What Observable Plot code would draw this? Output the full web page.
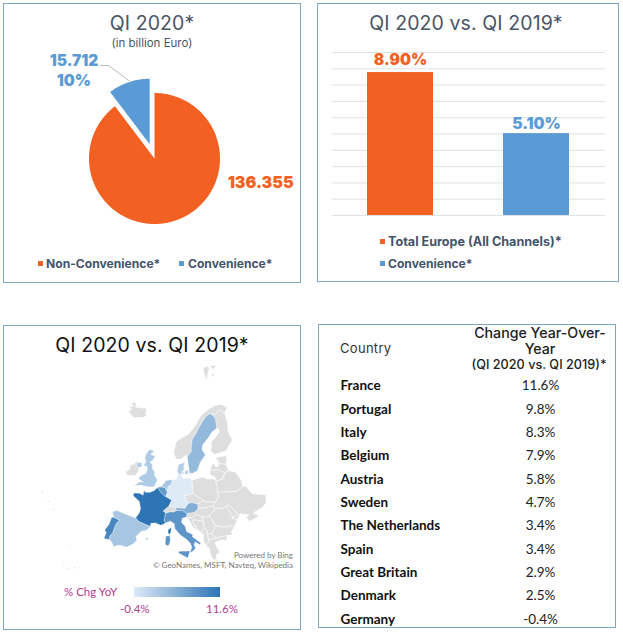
<!DOCTYPE html>
<html>
<head>
<meta charset="utf-8">
<script src="https://cdn.jsdelivr.net/npm/d3@7"></script>
<script src="https://cdn.jsdelivr.net/npm/@observablehq/plot@0.6"></script>
<style>
html,body{margin:0;padding:0;background:#fff;}
#page{position:relative;width:623px;height:635px;overflow:hidden;font-family:Inter,sans-serif;}
.box{position:absolute;box-sizing:border-box;border:1.2px solid #7ea6c6;}
.abs{position:absolute;white-space:nowrap;}
.plot{position:absolute;left:0;top:0;}
.plot svg{background:transparent;overflow:visible;}
.title{font-size:19.5px;color:#4a5568;letter-spacing:.1px;transform:translateX(-50%);}
.leg{font-size:12.1px;font-weight:700;color:#44546a;}
.sq{position:absolute;width:5px;height:5px;}
</style>
</head>
<body>
<div id="page"></div>
<script>
// ---------- data ----------
const pieLabels = ["Non-Convenience*", "Convenience*"];
const pieValues = [136.355, 15.712];
const pieText = ["136.355", "15.712"];
const pieShare = "10%";
const barLabels = ["Total Europe (All Channels)*", "Convenience*"];
const barValues = [8.9, 5.1];
const barText = ["8.90%", "5.10%"];
const gridTicks = [0, 1.015, 2.03, 3.045, 4.06, 5.075, 6.09, 7.105, 8.12, 9.135, 10.15];
const tableCountries = ["France","Portugal","Italy","Belgium","Austria","Sweden","The Netherlands","Spain","Great Britain","Denmark","Germany"];
const tableChange = ["11.6%","9.8%","8.3%","7.9%","5.8%","4.7%","3.4%","3.4%","2.9%","2.5%","-0.4%"];
const colors = {orange:"#f26122", blue:"#5b9bd5", slate:"#44546a"};

// rough country outlines, [lon, lat]
const france = [[[-1.8,43.4],[-1.2,44.6],[-1.1,45.6],[-2.2,47.1],[-4.7,47.9],[-4.8,48.5],[-3,48.8],[-1.6,48.6],[-1.8,49.7],[-1.2,49.4],[0.2,49.6],[1.5,50.2],[2.5,51.1],[4.2,50.1],[5.8,49.5],[6.4,49.4],[8.2,49],[7.6,47.6],[6,46.3],[7,45.9],[7,44.2],[7.5,43.8],[6.2,43.1],[4.5,43.4],[3.1,43.1],[3.1,42.4],[1.4,42.6],[-0.5,42.8]],[[9.4,43],[9.5,42],[9.2,41.4],[8.7,41.7],[8.6,42.4]]];
const spain = [[[-9.2,43.1],[-8,43.7],[-5.7,43.6],[-3.8,43.5],[-1.8,43.4],[-0.5,42.8],[1.4,42.6],[3.2,42.3],[2.2,41.4],[0.8,40.9],[-0.3,39.5],[0.2,38.8],[-0.7,37.7],[-2.1,36.8],[-4.4,36.7],[-5.6,36],[-6.4,36.8],[-7.4,37.2],[-7.5,38],[-7,38.9],[-7,39.7],[-6.9,41],[-6.3,41.9],[-8.2,42.1]],[[2.4,39.6],[3.1,39.9],[3.2,39.4],[2.7,39.4]]];
const portugal = [[[-8.8,41.9],[-8.2,42.1],[-6.3,41.9],[-6.9,41],[-7,39.7],[-7,38.9],[-7.5,38],[-7.4,37.2],[-8.9,37],[-8.8,38.4],[-9.5,38.8],[-8.9,40.2]]];
const italy = [[[7,45.9],[8.4,46.4],[9.3,46.4],[10.4,46.9],[12.3,47],[13.7,46.5],[13.6,45.7],[12.4,45.3],[12.3,44.4],[13.6,43.6],[14.1,42.5],[16.1,41.9],[15.9,41.5],[18.5,40.2],[18.3,39.8],[16.9,40.4],[16.6,39.7],[17.1,39],[16.5,38.4],[15.7,37.9],[15.8,38.6],[16.1,39.1],[15.5,40],[14.5,40.7],[12.4,41.6],[10.5,42.9],[10.2,43.9],[8.8,44.4],[7.5,43.8],[7,44.2]],[[12.5,38],[15.6,38.3],[15.1,36.7],[12.5,37.6]],[[8.2,40.9],[9.3,41.2],[9.7,40.3],[9.5,39.1],[8.9,38.9],[8.4,39.2]]];
const germany = [[[6.1,50.9],[6,51.8],[7.1,52.3],[7.1,53.5],[8.5,53.6],[8.9,54.9],[9.9,54.8],[11,54],[13,54.4],[14.2,53.9],[14.6,52.6],[15,51],[12.2,50.3],[13.8,48.7],[12.8,47.6],[10.5,47.5],[9.6,47.5],[7.6,47.6],[8.2,49],[6.4,49.4],[6.1,50.1]]];
const netherlands = [[[3.4,51.4],[4.2,52.1],[4.8,53],[6.9,53.4],[7.1,52.3],[6,51.8],[6.1,50.9],[5.7,50.8],[5.1,51.4]]];
const belgium = [[[2.5,51.1],[3.4,51.4],[5.1,51.4],[5.7,50.8],[6.1,50.9],[6.1,50.1],[5.8,49.5],[4.2,50.1]]];
const austria = [[[9.6,47.5],[10.5,47.5],[12.8,47.6],[13.8,48.7],[15,49],[17,48.7],[17.1,47.7],[16.1,46.9],[13.7,46.5],[12.3,47],[10.4,46.9]]];
const sweden = [[[11.2,59],[12.6,56.3],[13,55.4],[14.3,55.5],[15.9,56.1],[16.8,58],[18.8,59.8],[17.2,60.8],[17.3,62],[19.8,63.6],[21.5,64.9],[24.1,65.8],[23.6,67.3],[23.6,68],[20.6,69.1],[18.1,68.5],[16,67],[14.5,65.5],[13.7,64.5],[12.2,63],[12.3,61],[12.6,60.3]]];
const denmark = [[[8.1,55.5],[8.2,57],[10.6,57.7],[10.3,56.5],[10.9,56.3],[9.9,55.2],[9.9,54.8],[8.9,54.9]],[[11.1,55.7],[12.5,56.1],[12.4,55],[11.2,55.2]],[[9.9,55.5],[10.8,55.4],[10.6,55],[9.9,55.1]]];
const britain = [[[-5,58.6],[-3,58.6],[-4,57.6],[-1.9,57.6],[-2.3,56.5],[-3.2,56],[-2,55.7],[-1.4,54.8],[-0.1,54.2],[0.2,53.4],[1.7,52.7],[1.3,51.3],[1.4,51.1],[-1,50.7],[-3.4,50.6],[-5.6,50],[-4.2,51.2],[-3,51.4],[-5.2,51.8],[-4.2,52.8],[-3.1,53.3],[-3,54.1],[-3.6,54.9],[-5,54.8],[-4.6,55.7],[-5.6,56.5],[-5.7,57.6]],[[-6,55.2],[-5.5,54.5],[-6.3,54.1],[-7.6,54.3],[-7.2,55.1]]];

const grayCountries = [
 [[[-6.3,54.1],[-6,53.3],[-6.4,52.2],[-9.5,51.6],[-10.2,52.1],[-9.2,53.2],[-10,53.9],[-8.5,54.4],[-8.2,55.1],[-7.2,55.1],[-7.6,54.3]]],
 [[[-22.7,66.4],[-21,65.5],[-18,66.1],[-16,66.5],[-14.6,65.5],[-13.6,65],[-15,64.3],[-18.8,63.4],[-22.6,63.9],[-22,64.6],[-24,64.9],[-22,65.4],[-24.4,65.6]]],
 [[[11,79.5],[16,80],[18,79.6],[17,78.4],[16.5,76.6],[13.5,78]],[[19,80.2],[27,80.2],[22,79.3]],[[21,78.4],[24,78],[21,77.5]]],
 [[[5,60],[5.5,59],[7,58],[8.5,58.2],[10.6,59.3],[11.2,59],[12.6,60.3],[12.3,61],[12.2,63],[13.7,64.5],[14.5,65.5],[16,67],[18.1,68.5],[20.6,69.1],[23.6,68.9],[26,69.9],[28.9,69.1],[31,70.2],[28,71.1],[24,71],[19,70],[15,68.5],[12.5,66],[10,64],[6.5,62.7],[5,61.9]]],
 [[[21,60.7],[22.9,59.9],[25.5,60.3],[27.7,60.5],[31.3,62.9],[29.8,64.8],[30,67],[29,69.1],[26,69.9],[23.6,68.9],[20.6,69.1],[23.6,68],[23.6,67.3],[24.1,65.8],[25.3,65.4],[25.2,64.8],[22.5,63.3],[21.3,62.7],[21.4,61.5]]],
 [[[14.2,53.9],[18.4,54.8],[19.6,54.4],[23,54.4],[23.6,52.6],[23.6,51.5],[24.1,50.6],[22.7,49.2],[19,49.4],[18.8,49.6],[15,51],[14.6,52.6]]],
 [[[12.2,50.3],[15,51],[18.8,49.6],[17,48.7],[15,49],[13.8,48.7]]],
 [[[17,48.7],[18.8,49.6],[19,49.4],[22.7,49.2],[22.1,48.4],[18.8,47.9],[17.1,47.9]]],
 [[[17.1,47.7],[17.1,47.9],[18.8,47.9],[22.1,48.4],[22.9,47.9],[21,46.2],[18.8,45.9],[16.5,46.4],[16.1,46.9]]],
 [[[13.7,46.5],[16.1,46.9],[16.5,46.4],[15.5,45.6],[13.6,45.5]]],
 [[[13.6,45.5],[15.5,45.6],[16.5,46.4],[18.8,45.9],[19,45],[16,45.2],[15.8,44.7],[17.6,43],[18.5,42.5],[16,43.5],[14.9,44.7],[14.3,45.3]]],
 [[[16,45.2],[19,45],[19.5,43.6],[18.5,42.5],[17.6,43],[15.8,44.7]]],
 [[[18.8,45.9],[21,46.2],[22.7,44.2],[22.5,43.2],[21.5,42.3],[20.5,42.2],[20.3,42.8],[19.5,43.6],[19,45]]],
 [[[18.5,42.5],[19.5,43.6],[20.3,42.8],[19.3,41.9]]],
 [[[19.3,41.9],[20.3,42.8],[20.5,42.2],[20.8,40.9],[20.8,40.5],[20,39.7],[19.4,40.5]]],
 [[[20.5,42.2],[21.5,42.3],[22.9,41.4],[22.8,41.3],[20.8,40.9]]],
 [[[20,39.7],[20.8,40.5],[20.8,40.9],[22.8,41.3],[26.3,41.8],[26,40.8],[24,40.8],[22.7,40.4],[23,39.5],[24,38.2],[23,37.6],[23,36.5],[22.2,36.6],[21.6,37.2],[21.2,38.2],[21.1,39]],[[23.6,35.6],[26.3,35.2],[24.7,35],[23.6,35.3]]],
 [[[22.5,43.2],[22.7,44.2],[25,43.7],[27.9,43.9],[28.6,43.7],[27.5,42.5],[28,42],[26.3,41.8],[22.9,41.4],[21.5,42.3]]],
 [[[21,46.2],[22.9,47.9],[24.9,47.8],[26.6,48.3],[28.2,46],[28.2,45.5],[29.7,45.2],[28.6,43.7],[27.9,43.9],[25,43.7],[22.7,44.2]]],
 [[[26.6,48.3],[27.5,48.5],[30,46.4],[28.2,45.5],[28.2,46]]],
 [[[22.1,48.4],[22.7,49.2],[24.1,50.6],[23.6,51.5],[30.5,51.4],[32.7,52.3],[34,52.2],[35.6,50.4],[40.1,49.6],[39.7,47.9],[38.2,47.1],[35,46.2],[36.6,45.3],[33.5,44.5],[32.5,45.4],[33.5,46],[30.7,46.4],[29.7,45.2],[28.2,45.5],[30,46.4],[27.5,48.5],[26.6,48.3],[24.9,47.8],[22.9,47.9]]],
 [[[23.6,52.6],[23,54.4],[23.5,54],[25.5,54.3],[26.6,55.7],[28.2,56.1],[30.9,55.6],[32.7,53.5],[32.7,52.3],[30.5,51.4],[23.6,51.5]]],
 [[[21,55.3],[21,56.4],[24.9,56.4],[26.6,55.7],[25.5,54.3],[23.5,54],[23,54.4],[22.8,54.9]]],
 [[[21,56.4],[21.6,57.6],[22.6,57.7],[23.2,57],[24.4,57.3],[24.4,57.9],[27.4,57.6],[28.2,56.1],[26.6,55.7],[24.9,56.4]]],
 [[[23.5,59.2],[28,59.5],[27.4,57.6],[24.4,57.9],[24.4,58.4],[23.5,58.7]]],
 [[[9.6,47.5],[10.4,46.9],[9.3,46.4],[8.4,46.4],[7,45.9],[6,46.3],[7.6,47.6]]],
 [[[5.8,49.5],[6.4,49.4],[6.1,50.1]]]
];
const islands = [[-31,39.5],[-28,38.6],[-25.5,37.8],[-17,32.7],[-16.5,28.2],[-15.5,28],[-13.8,28.8]];

const mapValues = [
 [france, 11.6],[portugal, 9.8],[italy, 8.3],[belgium, 7.9],[austria, 5.8],[sweden, 4.7],
 [netherlands, 3.4],[spain, 3.4],[britain, 2.9],[denmark, 2.5],[germany, -0.4]
];

// ---------- helpers ----------
const page = document.getElementById("page");
function box(l, t, r, b) {
  const d = document.createElement("div"); d.className = "box";
  d.style.cssText = `left:${l}px;top:${t}px;width:${r-l}px;height:${b-t}px`;
  page.append(d);
}
function label(txt, x, y, css) {
  const d = document.createElement("div"); d.className = "abs"; d.textContent = txt;
  d.style.cssText = `left:${x}px;top:${y}px;${css||""}`;
  page.append(d); return d;
}
function square(x, y, c) {
  const d = document.createElement("div"); d.className = "sq";
  d.style.cssText = `left:${x}px;top:${y}px;background:${c}`;
  page.append(d);
}
function place(svg) {
  const w = document.createElement("div"); w.className = "plot"; w.append(svg); page.append(w);
}
const base = {width:623, height:635, margin:0};

box(3,3,301,283); box(317,3,619,282); box(3,325,301,630); box(318,324,616,628);

// ---------- pie ----------
const cx = 154, cy = 158, R = 65.5;
const arcs = d3.pie().sort(null)(pieValues);
const explode = 0.23;
const slicePts = arcs.flatMap((a, i) => {
  const mid = (a.startAngle + a.endAngle) / 2;
  const off = i === 1 ? explode : 0;
  const ox = off * Math.sin(mid), oy = off * Math.cos(mid);
  const n = Math.ceil((a.endAngle - a.startAngle) * 40);
  const pts = [{k:pieLabels[i], x:ox, y:oy}];
  d3.range(n + 1).forEach(j => {
    const t = a.startAngle + (a.endAngle - a.startAngle) * j / n;
    pts.push({k:pieLabels[i], x:ox + Math.sin(t), y:oy + Math.cos(t)});
  });
  pts.push({k:pieLabels[i], x:ox, y:oy});
  return pts;
});
place(Plot.plot({...base,
  x:{domain:[-1,1], range:[cx-R,cx+R], axis:null},
  y:{domain:[-1,1], range:[cy+R,cy-R], axis:null},
  marks:[
    Plot.line(slicePts, {x:"x", y:"y", z:"k", fill:"k", stroke:"none"}),
    Plot.line([[-0.82,1.42],[-0.70,1.42],[-0.38,1.18]], {x:d=>d[0], y:d=>d[1], stroke:"#a6a6a6", strokeWidth:0.8}),
    Plot.text([pieText[0]], {x:[1.62], y:[-0.37], text:d=>d, fill:colors.orange, fontWeight:900, fontSize:16, fontFamily:"Inter"}),
    Plot.text([pieText[1], pieShare], {x:[-1.23,-1.23], y:[1.49,1.19], text:d=>d, fill:colors.blue, fontWeight:900, fontSize:15.5, fontFamily:"Inter"})
  ],
  color:{domain:pieLabels, range:[colors.orange, colors.blue]}
}));
label("QI 2020*", 152, 11, "").classList.add("title");
label("(in billion Euro)", 152, 36, "font-size:11.5px;color:#4a5568;transform:translateX(-50%)");
square(38, 261, colors.orange); label(pieLabels[0], 46, 256, "").classList.add("leg");
square(179, 261, colors.blue); label(pieLabels[1], 188, 256, "").classList.add("leg");

// ---------- bars ----------
const barData = barLabels.map((k,i)=>({k, v:barValues[i], t:barText[i]}));
place(Plot.plot({...base, marginLeft:332, marginRight:18,
  x:{domain:barLabels, range:[331,604], paddingInner:0.515, paddingOuter:0.2575, axis:null},
  y:{domain:[0,10.15], range:[215,52], axis:null},
  color:{domain:barLabels, range:[colors.orange, colors.blue]},
  marks:[
    Plot.ruleY(gridTicks, {stroke:"#d9d9d9", strokeWidth:0.8}),
    Plot.barY(barData, {x:"k", y:"v", fill:"k"}),
    Plot.text(barData.slice(0,1), {x:"k", y:"v", text:"t", dy:-13, fill:"k", fontWeight:900, fontSize:15.5, fontFamily:"Inter"}),
    Plot.text(barData.slice(1), {x:"k", y:"v", text:"t", dy:-10, fill:"k", fontWeight:900, fontSize:15.5, fontFamily:"Inter"})
  ]
}));
label("QI 2020 vs. QI 2019*", 466, 11, "").classList.add("title");
square(380, 239, colors.orange); label(barLabels[0], 388, 234, "font-size:12.6px").classList.add("leg");
square(380, 261, colors.blue); label(barLabels[1], 388, 256, "").classList.add("leg");

// ---------- map ----------
function feature(rings, value) {
  const coords = rings.map(r => {
    const ring = [...r, r[0]];
    const g = {type:"Polygon", coordinates:[ring]};
    return d3.geoArea(g) > 2*Math.PI ? [ring.slice().reverse()] : [ring];
  });
  return {type:"Feature", properties:{value}, geometry:{type:"MultiPolygon", coordinates:coords}};
}
const colorFeatures = mapValues.map(([r,v]) => feature(r,v));
const grayFeatures = grayCountries.map(r => feature(r,null));
const mapProjection = () => d3.geoAzimuthalEqualArea().rotate([-22,-40]).scale(259.66).translate([212.31,543.57]);
place(Plot.plot({...base,
  projection: mapProjection,
  color:{type:"linear", domain:[-0.4,11.6], range:["#deebf7","#2e75b6"]},
  marks:[
    Plot.geo(grayFeatures, {fill:"#dedede", stroke:"#fff", strokeWidth:0.5}),
    Plot.geo(colorFeatures, {fill:d=>d.properties.value, stroke:"#fff", strokeWidth:0.3}),
    Plot.dot(islands, {x:d=>d[0], y:d=>d[1], r:0.7, fill:"#dedede"})
  ]
}));
label("QI 2020 vs. QI 2019*", 152, 333, "color:#111;").classList.add("title");
label("Powered by Bing", 0, 550, "left:auto;right:330px;font-family:Lato;font-size:8px;color:#777");
label("© GeoNames, MSFT, Navteq, Wikipedia", 0, 560, "left:auto;right:330px;font-family:Lato;font-size:8px;color:#777");
label("% Chg YoY", 64, 585, "font-family:Lato;font-size:11.5px;color:#b0408f");
const grad = document.createElement("div");
grad.style.cssText = "position:absolute;left:134px;top:587px;width:86px;height:10px;background:linear-gradient(90deg,#deebf7,#2e75b6)";
page.append(grad);
label("-0.4%", 120, 602, "font-family:Lato;font-size:11.5px;color:#b0408f");
label("11.6%", 206, 602, "font-family:Lato;font-size:11.5px;color:#b0408f");

// ---------- table ----------
const tableRows = tableCountries.map((c,i)=>({c, v:tableChange[i]}));
place(Plot.plot({...base,
  x:{domain:[0,1], range:[340,540], axis:null},
  y:{domain:tableCountries, range:[385.5,619], padding:0, round:false, axis:null},
  marks:[
    Plot.text(tableRows, {x:()=>0, y:"c", text:"c", textAnchor:"start", fontWeight:700, fontSize:13.5, fontFamily:"Lato", fill:"#111"}),
    Plot.text(tableRows, {x:()=>1, y:"c", text:"v", fontSize:13.5, fontFamily:"Lato", fill:"#222"})
  ]
}));
label("Country", 340, 340, "font-size:13px;color:#333;letter-spacing:.3px");
label("Change Year-Over-", 540, 324, "font-size:14.2px;font-weight:500;color:#222;transform:translateX(-50%)");
label("Year", 540, 340, "font-size:14.2px;font-weight:500;color:#222;transform:translateX(-50%)");
label("(QI 2020 vs. QI 2019)*", 539, 357, "font-size:12.7px;font-weight:500;color:#222;transform:translateX(-50%)");
</script>
</body>
</html>
